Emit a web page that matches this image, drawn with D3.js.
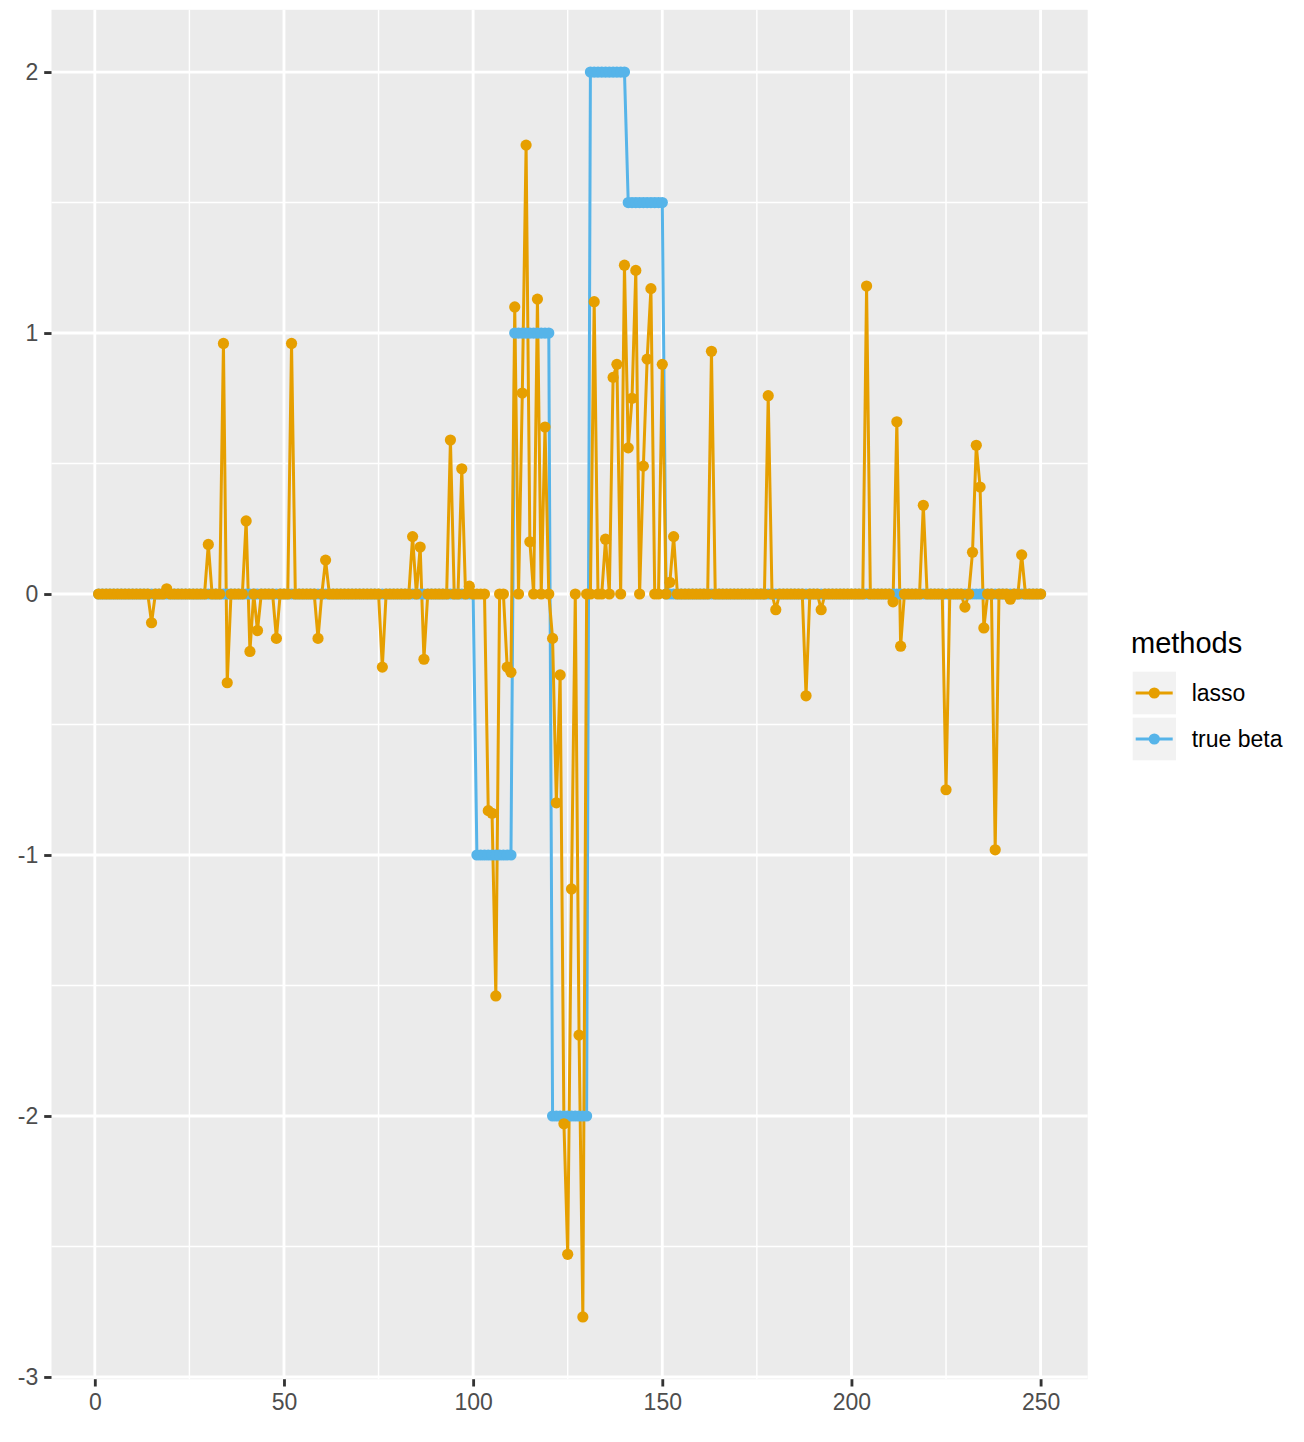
<!DOCTYPE html>
<html><head><meta charset="utf-8">
<script src="https://cdn.jsdelivr.net/npm/d3@7"></script>
<style>body{margin:0;background:#fff}svg text{font-family:"Liberation Sans",Arial,Helvetica,sans-serif}</style>
</head><body><svg id="c" width="1304" height="1442"></svg>
<script>
// lasso estimates, index 1..250
const lasso = [
  0,0,0,0,0,0,0,0,0,0,
  0,0,0,0,-0.11,0,0,0,0.02,0,
  0,0,0,0,0,0,0,0,0,0.19,
  0,0,0,0.96,-0.34,0,0,0,0,0.28,
  -0.22,0,-0.14,0,0,0,0,-0.17,0,0,
  0,0.96,0,0,0,0,0,0,-0.17,0,
  0.13,0,0,0,0,0,0,0,0,0,
  0,0,0,0,0,-0.28,0,0,0,0,
  0,0,0,0.22,0,0.18,-0.25,0,0,0,
  0,0,0,0.59,0,0,0.48,0,0.03,0,
  0,0,0,-0.83,-0.84,-1.54,0,0,-0.28,-0.30,
  1.10,0,0.77,1.72,0.20,0,1.13,0,0.64,0,
  -0.17,-0.80,-0.31,-2.03,-2.53,-1.13,0,-1.69,-2.77,0,
  0,1.12,0,0,0.21,0,0.83,0.88,0,1.26,
  0.56,0.75,1.24,0,0.49,0.90,1.17,0,0,0.88,
  0,0.045,0.22,0,0,0,0,0,0,0,
  0,0,0.93,0,0,0,0,0,0,0,
  0,0,0,0,0,0,0,0.76,0,-0.06,
  0,0,0,0,0,0,0,-0.39,0,0,
  0,-0.06,0,0,0,0,0,0,0,0,
  0,0,0,1.18,0,0,0,0,0,0,
  -0.03,0.66,-0.20,0,0,0,0,0,0.34,0,
  0,0,0,0,-0.75,0,0,0,0,-0.05,
  0,0.16,0.57,0.41,-0.13,0,0,-0.98,0,0,
  0,-0.02,0,0,0.15,0,0,0,0,0
];
// true coefficients, index 1..250
const trueBeta = [
  0,0,0,0,0,0,0,0,0,0,
  0,0,0,0,0,0,0,0,0,0,
  0,0,0,0,0,0,0,0,0,0,
  0,0,0,0,0,0,0,0,0,0,
  0,0,0,0,0,0,0,0,0,0,
  0,0,0,0,0,0,0,0,0,0,
  0,0,0,0,0,0,0,0,0,0,
  0,0,0,0,0,0,0,0,0,0,
  0,0,0,0,0,0,0,0,0,0,
  0,0,0,0,0,0,0,0,0,0,
  -1,-1,-1,-1,-1,-1,-1,-1,-1,-1,
  1,1,1,1,1,1,1,1,1,1,
  -2,-2,-2,-2,-2,-2,-2,-2,-2,-2,
  2,2,2,2,2,2,2,2,2,2,
  1.5,1.5,1.5,1.5,1.5,1.5,1.5,1.5,1.5,1.5,
  0,0,0,0,0,0,0,0,0,0,
  0,0,0,0,0,0,0,0,0,0,
  0,0,0,0,0,0,0,0,0,0,
  0,0,0,0,0,0,0,0,0,0,
  0,0,0,0,0,0,0,0,0,0,
  0,0,0,0,0,0,0,0,0,0,
  0,0,0,0,0,0,0,0,0,0,
  0,0,0,0,0,0,0,0,0,0,
  0,0,0,0,0,0,0,0,0,0,
  0,0,0,0,0,0,0,0,0,0
];
const seriesNames = ["lasso", "true beta"];
const seriesColors = ["#E69F00", "#56B4E9"];
const legendTitle = "methods";
const xTicks = [0, 50, 100, 150, 200, 250];
const xMinor = [25, 75, 125, 175, 225];
const yTicks = [-3, -2, -1, 0, 1, 2];
const yMinor = [-2.5, -1.5, -0.5, 0.5, 1.5];

const svg = d3.select("#c");
const P = {left: 51.5, right: 1087.7, top: 9.8, bottom: 1379.2};

const series = [
  {name: seriesNames[0], color: seriesColors[0], values: lasso.map((v, i) => ({x: i + 1, y: v}))},
  {name: seriesNames[1], color: seriesColors[1], values: trueBeta.map((v, i) => ({x: i + 1, y: v}))}
];
const all = series.flatMap(s => s.values);
const xe = d3.extent(all, d => d.x), ye = d3.extent(all, d => d.y);
const xp = (xe[1] - xe[0]) * 0.05, yp = (ye[1] - ye[0]) * 0.05;
const x = d3.scaleLinear().domain([xe[0] - xp, xe[1] + xp]).range([P.left, P.right]);
const y = d3.scaleLinear().domain([ye[0] - yp, ye[1] + yp]).range([P.bottom, P.top]);

svg.append("rect").attr("x", P.left).attr("y", P.top)
  .attr("width", P.right - P.left).attr("height", P.bottom - P.top).attr("fill", "#EBEBEB");

const g = svg.append("g");
g.selectAll(".ymin").data(yMinor).join("line")
  .attr("x1", P.left).attr("x2", P.right).attr("y1", d => y(d)).attr("y2", d => y(d))
  .attr("stroke", "#fff").attr("stroke-width", 1.42);
g.selectAll(".xmin").data(xMinor).join("line")
  .attr("y1", P.top).attr("y2", P.bottom).attr("x1", d => x(d)).attr("x2", d => x(d))
  .attr("stroke", "#fff").attr("stroke-width", 1.42);
g.selectAll(".ymaj").data(yTicks).join("line")
  .attr("x1", P.left).attr("x2", P.right).attr("y1", d => y(d)).attr("y2", d => y(d))
  .attr("stroke", "#fff").attr("stroke-width", 2.84);
g.selectAll(".xmaj").data(xTicks).join("line")
  .attr("y1", P.top).attr("y2", P.bottom).attr("x1", d => x(d)).attr("x2", d => x(d))
  .attr("stroke", "#fff").attr("stroke-width", 2.84);

// axes
const fmt = d => String(d);
const xAxis = d3.axisBottom(x).tickValues(xTicks).tickFormat(fmt).tickSizeInner(7.3).tickSizeOuter(0).tickPadding(5);
const yAxis = d3.axisLeft(y).tickValues(yTicks).tickFormat(fmt).tickSizeInner(7.3).tickSizeOuter(0).tickPadding(6);
const gx = svg.append("g").attr("transform", `translate(0,${P.bottom})`).call(xAxis);
const gy = svg.append("g").attr("transform", `translate(${P.left},0)`).call(yAxis);
[gx, gy].forEach(a => {
  a.select(".domain").remove();
  a.selectAll(".tick line").attr("stroke", "#333333").attr("stroke-width", 2.84);
  a.selectAll(".tick text").attr("fill", "#4D4D4D").attr("font-size", 23)
    .attr("font-family", '"Liberation Sans",Arial,sans-serif');
});
gx.selectAll(".tick text").attr("dy", null).attr("y", 31);
gy.selectAll(".tick text").attr("dy", "0.34em");

const line = d3.line().x(d => x(d.x)).y(d => y(d.y));
const order = [series[1], series[0]];
order.forEach(s => {
  svg.append("path").datum(s.values).attr("d", line)
    .attr("fill", "none").attr("stroke", s.color).attr("stroke-width", 3)
    .attr("stroke-linejoin", "round");
});
order.forEach(s => {
  svg.append("g").selectAll("circle").data(s.values).join("circle")
    .attr("cx", d => x(d.x)).attr("cy", d => y(d.y)).attr("r", 5.6).attr("fill", s.color);
});

// legend
const lg = svg.append("g");
lg.append("text").attr("x", 1131).attr("y", 653).attr("font-size", 29).attr("fill", "#000").text(legendTitle);
series.forEach((s, i) => {
  const top = 671.7 + i * 46;
  lg.append("rect").attr("x", 1132.7).attr("y", top).attr("width", 43.3).attr("height", 42.6).attr("fill", "#F2F2F2");
  const cy = top + 21.3;
  lg.append("line").attr("x1", 1135.7).attr("x2", 1172.7).attr("y1", cy).attr("y2", cy)
    .attr("stroke", s.color).attr("stroke-width", 3);
  lg.append("circle").attr("cx", 1154.3).attr("cy", cy).attr("r", 5.6).attr("fill", s.color);
  lg.append("text").attr("x", 1191.7).attr("y", cy + 8.2).attr("font-size", 23).attr("fill", "#000").text(s.name);
});
</script></body></html>
